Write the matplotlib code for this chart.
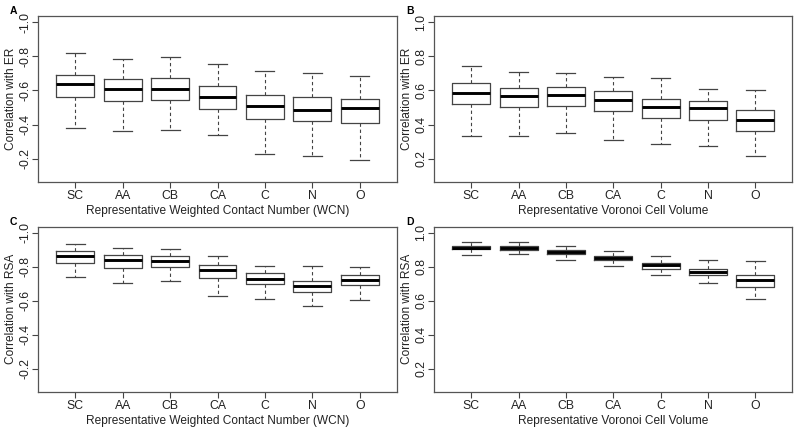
import matplotlib
matplotlib.use("Agg")
import matplotlib.pyplot as plt

plt.rcParams['font.family'] = ['Liberation Sans', 'DejaVu Sans']

atoms = ["SC", "AA", "CB", "CA", "C", "N", "O"]

# panel A: WCN vs ER (negative correlations)
A_lo = [-0.817, -0.784, -0.794, -0.753, -0.712, -0.700, -0.683]
A_q1 = [-0.692, -0.669, -0.671, -0.624, -0.575, -0.560, -0.552]
A_med = [-0.640, -0.610, -0.610, -0.562, -0.508, -0.486, -0.496]
A_q3 = [-0.564, -0.537, -0.546, -0.492, -0.434, -0.424, -0.408]
A_hi = [-0.381, -0.365, -0.367, -0.338, -0.227, -0.216, -0.192]

# panel B: Voronoi volume vs ER
B_lo = [0.334, 0.332, 0.353, 0.307, 0.285, 0.274, 0.214]
B_q1 = [0.519, 0.502, 0.508, 0.479, 0.440, 0.429, 0.365]
B_med = [0.587, 0.566, 0.572, 0.545, 0.504, 0.495, 0.425]
B_q3 = [0.642, 0.612, 0.620, 0.595, 0.551, 0.539, 0.485]
B_hi = [0.746, 0.708, 0.702, 0.679, 0.671, 0.609, 0.601]

# panel C: WCN vs RSA
C_lo = [-0.937, -0.913, -0.904, -0.863, -0.806, -0.802, -0.796]
C_q1 = [-0.892, -0.869, -0.865, -0.808, -0.762, -0.716, -0.752]
C_med = [-0.863, -0.838, -0.837, -0.779, -0.729, -0.687, -0.725]
C_q3 = [-0.821, -0.794, -0.796, -0.735, -0.698, -0.652, -0.692]
C_hi = [-0.742, -0.702, -0.716, -0.629, -0.608, -0.571, -0.606]

# panel D: Voronoi volume vs RSA
D_lo = [0.869, 0.877, 0.840, 0.802, 0.753, 0.705, 0.609]
D_q1 = [0.902, 0.900, 0.873, 0.838, 0.790, 0.751, 0.682]
D_med = [0.913, 0.909, 0.886, 0.850, 0.811, 0.771, 0.724]
D_q3 = [0.925, 0.923, 0.898, 0.861, 0.823, 0.790, 0.750]
D_hi = [0.946, 0.944, 0.921, 0.894, 0.863, 0.840, 0.836]

neg_ticks = [-1.0, -0.8, -0.6, -0.4, -0.2]
pos_ticks = [0.2, 0.4, 0.6, 0.8, 1.0]

TXT = '#222222'
LINE = '#444444'


def draw_panel(ax, lo, q1, med, q3, hi, ylabel, xlabel, negative):
    stats = []
    for i in range(len(atoms)):
        stats.append({'whislo': lo[i], 'q1': q1[i], 'med': med[i],
                      'q3': q3[i], 'whishi': hi[i], 'label': atoms[i]})
    pos = list(range(1, len(atoms) + 1))
    ax.bxp(stats, positions=pos, widths=0.8, capwidths=0.4, showfliers=False,
           boxprops=dict(color=LINE, linewidth=0.9),
           medianprops=dict(color='black', linewidth=2.1, solid_capstyle='butt'),
           whiskerprops=dict(color=LINE, linewidth=0.8, linestyle=(0, (3, 2.5))),
           capprops=dict(color=LINE, linewidth=0.9))
    ax.set_xlim(0.22, 7.78)
    if negative:
        ax.set_ylim(-0.064, -1.036)
        ax.set_yticks(neg_ticks)
        ax.set_yticklabels([f"{t:.1f}" for t in neg_ticks])
    else:
        ax.set_ylim(0.064, 1.036)
        ax.set_yticks(pos_ticks)
        ax.set_yticklabels([f"{t:.1f}" for t in pos_ticks])
    ax.set_xticks(pos)
    ax.set_xticklabels(atoms)
    ax.tick_params(direction='out', length=4, width=0.8, color=LINE,
                   labelsize=8.8, labelcolor=TXT)
    ax.tick_params(axis='y', pad=1)
    ax.tick_params(axis='x', pad=2)
    for lab in ax.get_yticklabels():
        lab.set_rotation(90)
        lab.set_va('center')
    for s in ax.spines.values():
        s.set_color('#555555')
        s.set_linewidth(0.9)
    ax.set_ylabel(ylabel, fontsize=8.6, color=TXT)
    ax.yaxis.set_label_coords(-0.06, 0.5)
    ax.set_xlabel(xlabel, fontsize=8.6, color=TXT, labelpad=2)


fig = plt.figure(figsize=(8, 4.32), dpi=100)
axA = fig.add_axes([0.0479, 0.5787, 0.448, 0.3843])
axB = fig.add_axes([0.5429, 0.5787, 0.4475, 0.3843])
axC = fig.add_axes([0.0479, 0.0926, 0.448, 0.3827])
axD = fig.add_axes([0.5429, 0.0926, 0.4475, 0.3827])

wcn = "Representative Weighted Contact Number (WCN)"
vor = "Representative Voronoi Cell Volume"
draw_panel(axA, A_lo, A_q1, A_med, A_q3, A_hi, "Correlation with ER", wcn, True)
draw_panel(axB, B_lo, B_q1, B_med, B_q3, B_hi, "Correlation with ER", vor, False)
draw_panel(axC, C_lo, C_q1, C_med, C_q3, C_hi, "Correlation with RSA", wcn, True)
draw_panel(axD, D_lo, D_q1, D_med, D_q3, D_hi, "Correlation with RSA", vor, False)

for lbl, x, y in [("A", 10, 11), ("B", 406, 11), ("C", 10, 222), ("D", 406, 222)]:
    fig.text(x / 800, 1 - y / 432, lbl, fontsize=7.5, fontweight='bold',
             ha='left', va='center', color='black')

fig.savefig("out.png", dpi=100)
